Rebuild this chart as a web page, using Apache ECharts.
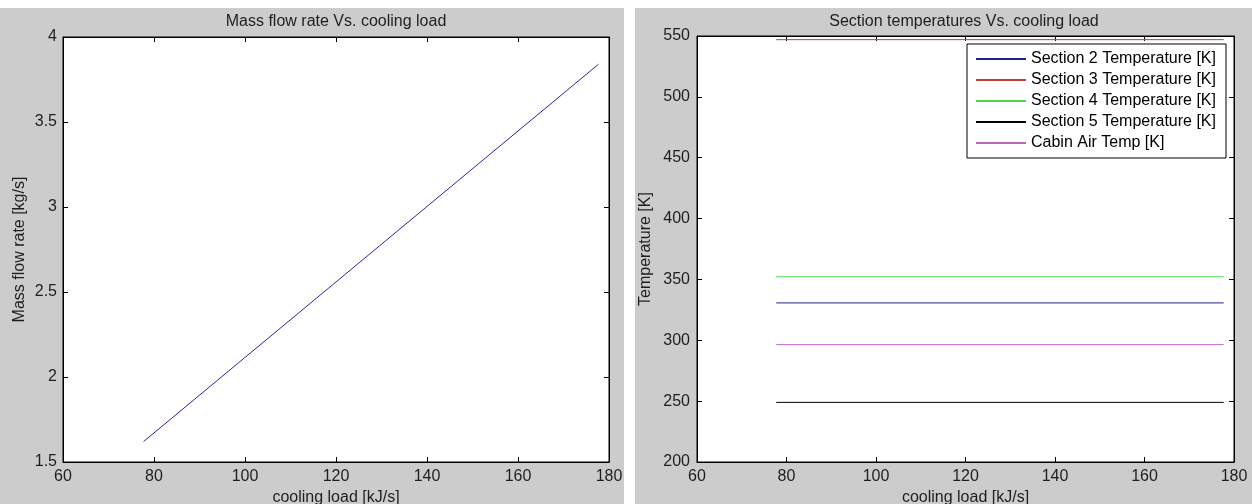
<!DOCTYPE html>
<html><head><meta charset="utf-8">
<script src="https://cdn.jsdelivr.net/npm/echarts@6/dist/echarts.min.js"></script>
<style>html,body{margin:0;padding:0;background:#fff}#c{width:1252px;height:504px}</style>
</head><body><div id="c"></div>
<script>
// ---- data ----
const coolingLoad = [77.7, 177.7];
const massFlowRate = [1.62, 3.84];
const section2Temp = [330.7, 330.7];
const section3Temp = [547, 547];
const section4Temp = [352.2, 352.2];
const section5Temp = [249, 249];
const cabinAirTemp = [296.4, 296.4];
const xTicks = [60, 80, 100, 120, 140, 160, 180];
const massTicks = [1.5, 2, 2.5, 3, 3.5, 4];
const tempTicks = [200, 250, 300, 350, 400, 450, 500, 550];
const tempNames = ['Section 2 Temperature [K]', 'Section 3 Temperature [K]', 'Section 4 Temperature [K]', 'Section 5 Temperature [K]', 'Cabin Air Temp [K]'];
const tempColors = ['#22228f', '#c83c3c', '#4fd24f', '#000000', '#c064c0'];
const tempSeries = [section2Temp, section3Temp, section4Temp, section5Temp, cabinAirTemp];

const FF = '"Liberation Sans", Arial, sans-serif';
const TXT = '#1e1e1e';
const pairs = arr => coolingLoad.map((x, i) => [x, arr[i]]);

function xAx(grid, pos, show, name, gap) {
  return {
    type: 'value', gridIndex: grid, position: pos,
    min: xTicks[0], max: xTicks[xTicks.length - 1], interval: xTicks[1] - xTicks[0],
    axisLine: { show: true, onZero: false, lineStyle: { color: '#000', width: 1 } },
    axisTick: { show: true, inside: true, length: 5, lineStyle: { color: '#000' } },
    axisLabel: { show: show, color: TXT, fontSize: 16, fontFamily: FF, margin: 7, showMinLabel: true, showMaxLabel: true },
    splitLine: { show: false },
    name: name, nameLocation: 'middle', nameGap: gap || 25,
    nameTextStyle: { color: TXT, fontSize: 16, fontFamily: FF }
  };
}
function yAx(grid, pos, show, ticks, name, gap, margin) {
  return {
    type: 'value', gridIndex: grid, position: pos,
    min: ticks[0], max: ticks[ticks.length - 1], interval: ticks[1] - ticks[0],
    axisLine: { show: true, onZero: false, lineStyle: { color: '#000', width: 1 } },
    axisTick: { show: true, inside: true, length: 5, lineStyle: { color: '#000' } },
    axisLabel: { show: show, color: TXT, fontSize: 16, fontFamily: FF, margin: margin, showMinLabel: true, showMaxLabel: true },
    splitLine: { show: false },
    name: name, nameLocation: 'middle', nameGap: gap,
    nameTextStyle: { color: TXT, fontSize: 16, fontFamily: FF }
  };
}

const chart = echarts.init(document.getElementById('c'), null, { renderer: 'canvas' });
chart.setOption({
  animation: false,
  backgroundColor: '#cccccc',
  graphic: [
    { type: 'rect', shape: { x: 0, y: 0, width: 1252, height: 8 }, style: { fill: '#ffffff' }, silent: true },
    { type: 'rect', shape: { x: 624, y: 0, width: 11, height: 504 }, style: { fill: '#ffffff' }, silent: true },
    { type: 'text', x: 336, y: 22, style: { text: 'Mass flow rate Vs. cooling load', fill: TXT, font: '16px ' + FF, textAlign: 'center', textVerticalAlign: 'middle' } },
    { type: 'text', x: 964, y: 22, style: { text: 'Section temperatures Vs. cooling load', fill: TXT, font: '16px ' + FF, textAlign: 'center', textVerticalAlign: 'middle' } }
  ],
  grid: [
    { left: 63, top: 37, width: 546, height: 425, show: true, backgroundColor: '#fff', borderColor: '#000', borderWidth: 1, containLabel: false, outerBoundsMode: 'none' },
    { left: 697, top: 36, width: 537, height: 426, show: true, backgroundColor: '#fff', borderColor: '#000', borderWidth: 1, containLabel: false, outerBoundsMode: 'none' }
  ],
  xAxis: [
    xAx(0, 'bottom', true, 'cooling load [kJ/s]', 25),
    xAx(0, 'top', false, '', 0),
    xAx(1, 'bottom', true, 'cooling load [kJ/s]', 25),
    xAx(1, 'top', false, '', 0)
  ],
  yAxis: [
    yAx(0, 'left', true, massTicks, 'Mass flow rate [kg/s]', 35, 6),
    yAx(0, 'right', false, massTicks, '', 0, 6),
    yAx(1, 'left', true, tempTicks, 'Temperature [K]', 43, 7),
    yAx(1, 'right', false, tempTicks, '', 0, 7)
  ],
  legend: {
    left: 967, top: 44, orient: 'vertical', data: tempNames,
    icon: 'rect', itemWidth: 50, itemHeight: 2, itemGap: 3,
    padding: [6, 10, 6, 9], backgroundColor: '#fff', borderColor: '#000', borderWidth: 1,
    borderRadius: 0, selectedMode: false,
    textStyle: { fontSize: 16, color: '#000', fontFamily: FF, lineHeight: 18 }
  },
  series: [
    { name: 'Mass flow rate', type: 'line', xAxisIndex: 0, yAxisIndex: 0, data: pairs(massFlowRate),
      symbol: 'none', lineStyle: { color: '#2828a0', width: 1 }, itemStyle: { color: '#2828a0' } }
  ].concat(tempSeries.map((arr, i) => ({
    name: tempNames[i], type: 'line', xAxisIndex: 2, yAxisIndex: 2, data: pairs(arr),
    symbol: 'none', lineStyle: { color: tempColors[i], width: 1 }, itemStyle: { color: tempColors[i] }
  })))
});
</script></body></html>
